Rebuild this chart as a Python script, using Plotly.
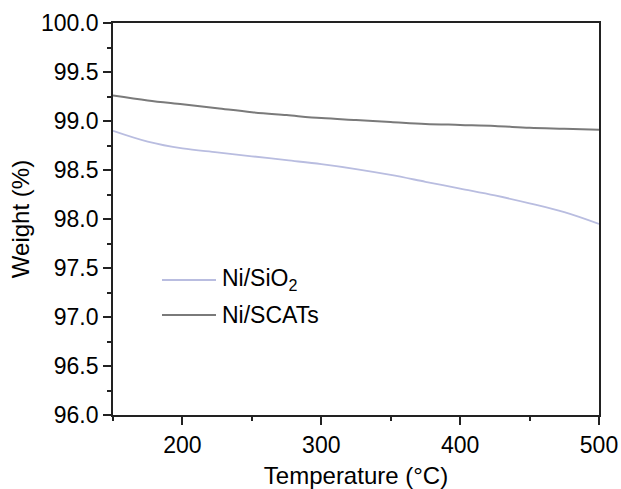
import plotly.graph_objects as go

temp_sio2 = [150, 175, 200, 225, 250, 275, 300, 325, 350, 375, 400, 425, 450, 475, 500]
weight_sio2 = [98.90, 98.79, 98.72, 98.68, 98.64, 98.60, 98.56, 98.51, 98.45, 98.38, 98.31, 98.24, 98.16, 98.07, 97.95]
temp_scats = [150, 175, 200, 225, 250, 275, 300, 325, 350, 375, 400, 425, 450, 475, 500]
weight_scats = [99.26, 99.21, 99.17, 99.13, 99.09, 99.06, 99.03, 99.01, 98.99, 98.97, 98.96, 98.95, 98.93, 98.92, 98.91]
series_names = ["Ni/SiO<sub>2</sub>", "Ni/SCATs"]
series_colors = ["#b9bde0", "#7a7a7a"]

font = "Liberation Sans, Arial, sans-serif"
L, R, T, B = 113, 22, 23, 74
W, H = 621, 489
pw, ph = W - L - R, H - T - B

fig = go.Figure()
fig.add_trace(go.Scatter(x=temp_sio2, y=weight_sio2, mode="lines", name=series_names[0],
                         line=dict(color=series_colors[0], width=1.8, shape="spline"), showlegend=False))
fig.add_trace(go.Scatter(x=temp_scats, y=weight_scats, mode="lines", name=series_names[1],
                         line=dict(color=series_colors[1], width=2, shape="spline"), showlegend=False))

# manual legend (pixel positions converted to paper coords)
legend_rows_px = [280, 315]
shapes, annots = [], []
for name, color, ypx in zip(series_names, series_colors, legend_rows_px):
    yp = (H - B - ypx) / ph
    shapes.append(dict(type="line", xref="paper", yref="paper",
                       x0=(162 - L) / pw, x1=(216 - L) / pw, y0=yp, y1=yp,
                       line=dict(color=color, width=2)))
    annots.append(dict(xref="paper", yref="paper", x=(220 - L) / pw, y=yp, text=name,
                       showarrow=False, xanchor="left", yanchor="middle",
                       font=dict(size=23, family=font, color="black")))

fig.update_layout(
    width=W, height=H,
    margin=dict(l=L, r=R, t=T, b=B),
    paper_bgcolor="white", plot_bgcolor="white",
    font=dict(family=font, size=23, color="black"),
    showlegend=False,
    shapes=shapes, annotations=annots,
)
fig.update_xaxes(range=[150, 500], tickvals=[200, 300, 400, 500], ticks="outside", ticklen=8,
                 tickwidth=1.5, tickcolor="#222", showline=True, linewidth=1.8, linecolor="#222", mirror=True,
                 showgrid=False, zeroline=False, automargin=False,
                 minor=dict(tickvals=[150, 250, 350, 450], ticks="outside", ticklen=4, tickwidth=1.5, tickcolor="#222"),
                 title=dict(text="Temperature (°C)", font=dict(size=24), standoff=14))
fig.update_yaxes(range=[96, 100], tickvals=[96, 96.5, 97, 97.5, 98, 98.5, 99, 99.5, 100],
                 tickformat=".1f", ticks="outside", ticklen=8, tickwidth=1.5, tickcolor="#222",
                 showline=True, linewidth=1.8, linecolor="#222", mirror=True,
                 showgrid=False, zeroline=False, automargin=False,
                 minor=dict(dtick=0.25, ticks="outside", ticklen=4, tickwidth=1.5, tickcolor="#222"),
                 title=dict(text="Weight (%)", font=dict(size=24), standoff=5))

fig.write_html("out.html", config={"displayModeBar": False},
               post_script="document.body.style.margin='0';document.body.style.overflow='hidden';")
